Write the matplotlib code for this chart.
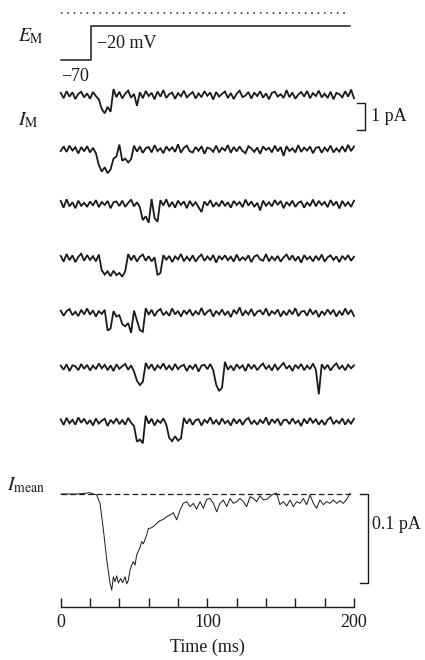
import numpy as np
import matplotlib
matplotlib.use("Agg")
import matplotlib.pyplot as plt

# ---------------- data ----------------
# voltage protocol (mV)
step_time_ms = [0, 21, 197]
step_mV = [-70, -20, -20]
reference_mV = 0
reference_end_ms = 196

# single-channel sweeps, values in units of 0.01 pA, sampled evenly over 0-200 ms
trace_1 = [8, -12, 14, -6, 10, -15, 4, 12, -9, 6, -14, 11, -4, -16,
           -52, -68, -44, -62,
           22,
           -8, 12, -13, 5, 16, -10, 4,
           -40,
           10, -12, 15, -4, 8, -16, 13, -6, 18, -11, 3, 9, -14, 7, -5, 16, -9, 2, 11, -13, 6, -8, 14,
           -3, 9, -17, 11, -6, 4, 13, -11, 7, -15, 5, 16, -8, -2, 11, -13, 9, -4, 14, -10, 6, -16, 8,
           12, -6, 3, -11, 18, -8, 9, -14, 2, 11, -6, 15, -12, 7, -4, 16, -9, 5, -11, 12, -16, 8, 3,
           -9, 14, -6, 20, -12]
trace_2 = [-6, 11, -9, 14, -4, 8, -15, 9, -7, 12, -11, 6, -14,
           -58, -82, -66, -88, -74,
           -34, -26,
           18,
           -42, -34, -48, -36,
           14, -8, 11, -13, 5, 9, -11, 16, -6, 4, -14, 11, -4, 8, -9, 19, -12, 6, 14, -7, -11, 9, -5,
           12, -16, 7, 3, -9, 14, -11, 6, -4, 16, -12, 9, -7, 11, -6, -14, 12, 4, -9, 7, -16, 11, -2,
           6, -11, 14, -7, 9, -24, 12, -6, 4, -11, 16, -9, 7, -4, 11, -14, 6, 9, -12, 7, -6, 14, -11,
           4, -8, 12, -9, 17, -6, 11]
trace_3 = [11, -14, 17, -9, 6, -16, 12, -7, 4, -11, 9, -6, 14, -12, 7, -4, 11, -16, 6, 9, -8, 12, -11,
           4, 16, -9, 6, -13,
           -60, -46, -70,
           18,
           -52, -66,
           14, -6, 17, -11, 7, -14, 12, -4, 9, -16, 11, -7, 6, -12, -30, 9, -6, 14, -11, 4, -9, 12,
           -8, 6, -14, 11, -4, 7, -12, 16, -6, 9, -11, 4, -24, 12, -7, 6, -9, 14, -4, 11, -16, 7, -6,
           12, -11, 4, 9, -14, 6, -8, 16, -9, 11, -4, 7, -12, 14, -6, 9, -17, 11, -7, 6, -11, 12]
trace_4 = [9, -12, 16, -7, 11, -14, 6, 17, -9, 12, -6, 8, -11, 14,
           -44, -60, -48, -66, -46, -62, -54, -68, -48,
           16, -7, 11, -12, 6, 14, -9, 8, -11, 4,
           -62, -54,
           12, -6, 9, -14, 7, -4, 16, -11, 6, -8, 11, -12, 4, 14, -9, 7, -6, 12, -16, 9, -4, 11, -7,
           6, -12, 14, -9, 4, -6, 11, -14, 7, 12, -4, -9, 16, -11, 6, -7, 9, -12, 4, 14, -6, 11, -9,
           7, -16, 12, -4, 6, -11, 9, -7, 14, -12, 4, 11, -6, 7, -14, 9, -4, 12, -9, 6]
trace_5 = [8, -11, 6, 14, -9, 4, -12, 11, -6, 16, -7, 9, -14, 6, -4, 11,
           -66, -58,
           6, -14, -9,
           -42, -50, -38,
           -74,
           8,
           -28,
           -64, -70,
           17, -7, 11, -12, 6, 14, -9, 4, -11, 16, -6, 7, -14, 9, -4, 12, -11, 6, -7, 18, -9, 4, 11,
           -14, 7, -6, 12, -9, 6, -16, 11, -4, 20, -11, 7, -6, 14, -12, 4, 9, -7, 16, -11, 6, -4, 12,
           -14, 7, -9, 11, -6, 17, -12, 4, 7, -11, 14, -6, 9, -16, 6, -7, 12, -4, 11, -14, 7, -9, 16,
           -6, 11, -12]
trace_6 = [6, -9, 11, -14, 7, 4, -11, 12, -6, 9, -12, 6, -7, 14, -4, 9, -11, 7, -14, 11, -6, 4, 12,
           -9, 7, -16,
           -50, -66, -54,
           16, -6, 11, -12, 7, -4, 14, -9, 6, -11, 12, -7, 4, 9, -14, 7, -6, 11, -16, 6, 9, -7, 12,
           -11,
           -64, -88, -76,
           20, -9, 6, -12, 11, -4, 7, -14, 12, -6, 9, -11, 4, 14, -7, 6, -12, 11, -9, 4, 16, -6, 7,
           -14, 9, -4, 12, -11, 6, -7, 14, -9,
           -100,
           11, -6, 9, -12, 4, 14, -7, 6, -11, 9, -4, 7]
trace_7 = [9, -12, 14, -6, 7, -11, 16, -4, 11, -9, 6, -14, 12, -7, 4, 11, -16, 7, -6, 12, -9, 6, -11,
           14, -4, -16,
           -74, -66, -80,
           22,
           -7, 11, -14, 6, -4, 12, -11,
           -60, -72, -54, -70, -62,
           14, -7, 11, -12, 6, 9, -14, 7, -4, 16, -9, 6, -11, 12, -6, 4, -14, 11, -7, 9, -12, 6, 14,
           -9, 4, -11, 7, -6, 16, -12, 9, -4, 11, -14, 6, 7, -9, 12, -6, 4, -16, 11, -7, 14, -4, 9,
           -11, 6, -12, 7, 16, -9, 4, -6, 12, -11, 7, -7, 11]
traces = [trace_1, trace_2, trace_3, trace_4, trace_5, trace_6, trace_7]
trace_unit_pA = 0.01

# ensemble mean current
mean_time_ms = [0, 10.9, 17.7, 20, 22.3, 24.5, 26.8, 29.1, 31.4, 33.6, 34.8, 35.9, 37.0, 38.2, 39.3,
                40.9, 42.3, 43.9, 45.0, 46.1, 47.3, 48.4, 49.5, 50.7, 51.8, 54.1, 55.2, 56.4, 58.6,
                59.8, 60.9, 63.2, 65.5, 67.7, 70.0, 72.3, 74.5, 76.8, 79.1, 81.4, 83.6, 85.9, 88.2,
                90.5, 92.7, 95, 97.3, 99.5, 101.8, 104.1, 106.4, 108.6, 110.9, 113.2, 115.5, 117.7,
                120, 122.3, 124.5, 126.8, 129.1, 131.4, 133.6, 135.9, 138.2, 140.5, 142.7, 145,
                147.3, 149.5, 151.8, 154.1, 156.4, 158.6, 160.9, 163.2, 165.5, 167.7, 170, 172.3,
                174.5, 176.8, 179.1, 181.4, 183.6, 185.9, 188.2, 190.5, 192.7, 195, 197.3]
mean_pA = [0, 0, 0.001, 0.0015, 0, -0.001, -0.0105, -0.040, -0.074, -0.100, -0.108, -0.093, -0.0985,
           -0.092, -0.100, -0.095, -0.0996, -0.093, -0.101, -0.097, -0.085, -0.080, -0.076, -0.080,
           -0.0685, -0.060, -0.0535, -0.056, -0.046, -0.0386, -0.0386, -0.0367, -0.033, -0.030,
           -0.0285, -0.0255, -0.0236, -0.021, -0.029, -0.018, -0.0105, -0.0086, -0.0142, -0.0105,
           -0.017, -0.0086, -0.016, -0.006, -0.005, -0.0105, -0.020, -0.0105, -0.0067, -0.0142,
           -0.005, -0.0105, -0.0086, -0.005, -0.0086, -0.0142, -0.003, -0.005, -0.0086, -0.002,
           -0.0067, -0.006, -0.003, 0, 0.001, -0.012, -0.0086, -0.0135, -0.0067, -0.0142, -0.0086,
           -0.0105, -0.005, -0.012, -0.001, -0.0105, -0.016, -0.0067, -0.012, -0.0086, -0.0105,
           -0.0067, -0.0105, -0.0075, -0.0105, -0.006, 0.001]
mean_baseline_end_ms = 198.6

time_ticks = [0, 20, 40, 60, 80, 100, 120, 140, 160, 180, 200]
time_tick_labels = ["0", "", "", "", "", "100", "", "", "", "", "200"]

# ---------------- layout ----------------
plt.rcParams["font.family"] = ["Liberation Serif", "DejaVu Serif"]
plt.rcParams["mathtext.fontset"] = "stix"

W, H = 425, 660
fig = plt.figure(figsize=(W / 100, H / 100), dpi=100)
ink = "#1a1a1a"
FS = 13


def px_axes(x0, y0, x1, y1):
    return fig.add_axes([x0 / W, 1 - y1 / H, (x1 - x0) / W, (y1 - y0) / H])


X0, X1 = 60.7, 354.0

# voltage step
ax_e = px_axes(X0, 13, X1, 60)
ax_e.set_xlim(0, 200)
ax_e.set_ylim(-70, 0)
ax_e.axis("off")
ax_e.step(step_time_ms, step_mV, where="post", color=ink, lw=1.1, clip_on=False)
ax_e.plot([0, reference_end_ms], [reference_mV, reference_mV], color=ink, lw=1.1,
          ls=(0, (1, 3.2)), clip_on=False)
ax_e.text(25, -45, "\u221220 mV", fontsize=FS, ha="left", va="center", color=ink)
ax_e.text(0, -94, "\u221270", fontsize=FS, ha="left", va="center", color=ink)

# single channel traces
px_per_pA = 27.0
trace_spacing_pA = 54.45 / px_per_pA
ax_t = px_axes(X0, 80, X1, 440)
ax_t.set_xlim(0, 200)
ax_t.set_ylim(-(440 - 95) / px_per_pA, (95 - 80) / px_per_pA)
ax_t.axis("off")
for k, tr in enumerate(traces):
    t = np.linspace(0, 200, len(tr))
    ax_t.plot(t, np.asarray(tr) * trace_unit_pA - k * trace_spacing_pA, color=ink, lw=1.3,
              clip_on=False, solid_joinstyle="miter")
ax_t.plot([202, 207.5, 207.5, 202], [-0.3, -0.3, -1.3, -1.3], color=ink, lw=1.0, clip_on=False)
ax_t.text(211.5, -0.8, "1 pA", fontsize=FS, ha="left", va="center", color=ink)

# mean current
ax_m = px_axes(X0, 470, X1, 606.7)
ax_m.set_xlim(0, 200)
ax_m.set_ylim(-(606.7 - 494) / 890.0, (494 - 470) / 890.0)
for s in ("top", "left", "right"):
    ax_m.spines[s].set_visible(False)
ax_m.spines["bottom"].set_color(ink)
ax_m.spines["bottom"].set_linewidth(1.0)
ax_m.set_yticks([])
ax_m.set_xticks(time_ticks)
ax_m.set_xticklabels(time_tick_labels)
ax_m.tick_params(axis="x", direction="in", length=6.5, width=1.0, color=ink, pad=5,
                 labelsize=FS, labelcolor=ink)
ax_m.set_xlabel("Time (ms)", fontsize=FS, color=ink, labelpad=6)
ax_m.plot([0, mean_baseline_end_ms], [0, 0], color=ink, lw=0.9, ls=(0, (4.5, 2.6)), clip_on=False)
ax_m.plot(mean_time_ms, mean_pA, color=ink, lw=0.7, clip_on=False)
ax_m.plot([204, 209.6, 209.6, 204], [0, 0, -0.1, -0.1], color=ink, lw=1.0, clip_on=False)
ax_m.text(212.3, -0.034, "0.1 pA", fontsize=FS, ha="left", va="center", color=ink)

# row labels
fig.text(18 / W, 1 - 41.7 / H, r"$E_{\mathrm{M}}$", fontsize=14, ha="left", va="baseline", color=ink)
fig.text(18 / W, 1 - 125 / H, r"$I_{\mathrm{M}}$", fontsize=14, ha="left", va="baseline", color=ink)
fig.text(7 / W, 1 - 490 / H, r"$I_{\mathrm{mean}}$", fontsize=14, ha="left", va="baseline", color=ink)

fig.savefig("out.png", dpi=100)
